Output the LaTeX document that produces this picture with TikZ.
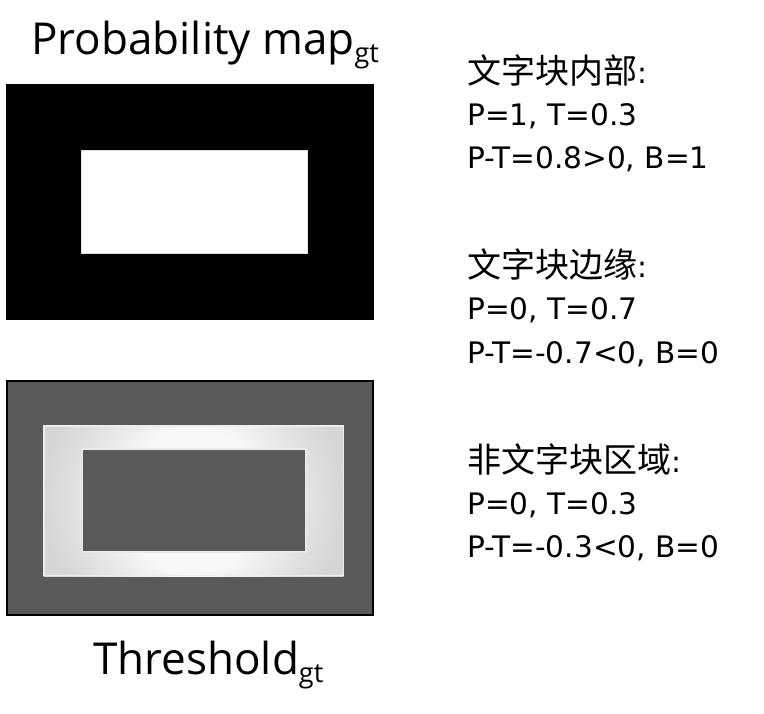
\documentclass[tikz,border=0pt]{standalone}
\usepackage{fontspec}
\setmainfont{DejaVu Sans}
\newfontfamily\cjk{Noto Sans CJK SC}
\newfontfamily\ttlfont{Open Sans}
\definecolor{darkfill}{HTML}{5A5A5A}
\pgfdeclareradialshading{bandshade}{\pgfpointorigin}{color(0bp)=(white!97!black); color(12bp)=(white!97!black); color(17bp)=(white!91!black); color(21bp)=(white!87!black); color(25bp)=(white!84!black); color(50bp)=(white!84!black)}
\newcommand{\gtsub}{\raisebox{-8pt}{\fontsize{27}{27}\selectfont gt}}
\newcommand{\cjkhead}[1]{{\cjk\fontsize{34}{42}\selectfont #1}:}
\begin{document}
\begin{tikzpicture}[x=1pt,y=-1pt,
  lbl/.style={anchor=base west, inner sep=0pt, font=\fontsize{29.6}{42}\selectfont},
  ttl/.style={anchor=base west, inner sep=0pt, font=\ttlfont\fontsize{44}{50}\selectfont}]
\useasboundingbox (0,0) rectangle (764,714);
% probability map
\fill[black] (6,84) rectangle (374,320);
\filldraw[fill=white, draw=white!88!black, line width=1pt] (81,150.5) rectangle (307,254);
% threshold map
\filldraw[fill=darkfill, draw=black, line width=2pt] (7,381) rectangle (373,615);
\begin{scope}
  \clip (43,425) rectangle (344,576);
  \shade[shading=bandshade] (43.5,350.5) rectangle (343.5,650.5);
\end{scope}
\draw[white!93!black, line width=1.5pt] (43.75,425.75) rectangle (343.25,575.25);
\filldraw[fill=darkfill, draw=white!91!black, line width=1.5pt] (82,449) rectangle (306,552);
% titles
\node[ttl] (ttlP) at (31,55) {Probability map\gtsub};
\node[ttl] (ttlT) at (93,674) {Threshold\gtsub};
% right column
\node[lbl] (g1a) at (467,84)  {\cjkhead{文字块内部}};
\node[lbl] (g1b) at (467,126) {P=1, T=0.3};
\node[lbl] (g1c) at (467,169) {P-T=0.8>0, B=1};
\node[lbl] (g2a) at (467,278) {\cjkhead{文字块边缘}};
\node[lbl] (g2b) at (467,320) {P=0, T=0.7};
\node[lbl] (g2c) at (467,363) {P-T=-0.7<0, B=0};
\node[lbl] (g3a) at (467,472) {\cjkhead{非文字块区域}};
\node[lbl] (g3b) at (467,514) {P=0, T=0.3};
\node[lbl] (g3c) at (467,557) {P-T=-0.3<0, B=0};
\end{tikzpicture}
\end{document}
